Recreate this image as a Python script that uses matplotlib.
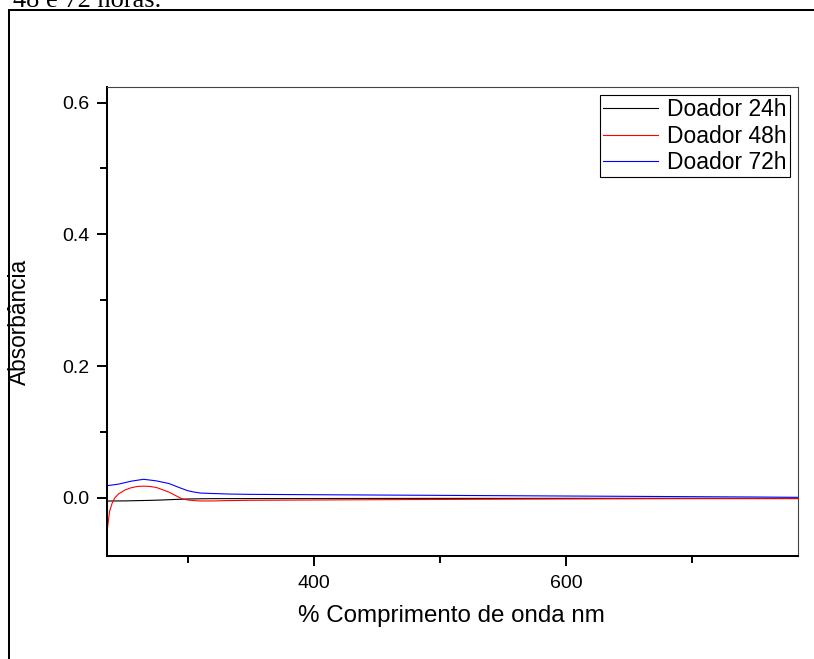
import matplotlib
matplotlib.use("Agg")
import matplotlib.pyplot as plt
from matplotlib.lines import Line2D
from matplotlib.ticker import FixedLocator, FormatStrFormatter

plt.rcParams['font.family'] = ['Liberation Sans', 'DejaVu Sans']

# ---- data ----
wl_24 = [236, 250, 260, 270, 280, 290, 300, 310, 320, 350, 400, 450, 500, 550, 600, 650, 700, 750, 785]
ab_24 = [-0.0046, -0.0044, -0.0040, -0.0036, -0.0030, -0.0022, -0.0015, -0.0012, -0.0010, -0.0009,
         -0.0008, -0.0007, -0.0006, -0.0006, -0.0005, -0.0005, -0.0005, -0.0005, -0.0005]

wl_48 = [236, 237, 238, 240, 242, 245, 250, 255, 260, 265, 270, 275, 280, 285, 290, 295, 300, 305,
         310, 320, 330, 350, 400, 450, 500, 550, 600, 650, 700, 750, 785]
ab_48 = [-0.051, -0.035, -0.020, -0.008, 0.000, 0.006, 0.012, 0.0155, 0.0175, 0.018, 0.0175, 0.016,
         0.0125, 0.009, 0.004, -0.001, -0.003, -0.004, -0.0045, -0.0045, -0.004, -0.0035, -0.003,
         -0.0026, -0.0022, -0.0018, -0.0015, -0.0012, -0.0010, -0.0010, -0.0010]

wl_72 = [236, 245, 255, 265, 275, 285, 293, 300, 305, 310, 320, 333, 350, 400, 450, 500, 550, 600,
         650, 700, 750, 785]
ab_72 = [0.0187, 0.021, 0.0255, 0.0284, 0.026, 0.022, 0.016, 0.011, 0.009, 0.0075, 0.0068, 0.006,
         0.0055, 0.005, 0.0045, 0.004, 0.0035, 0.003, 0.0025, 0.002, 0.0015, 0.001]

labels = ['Doador 24h', 'Doador 48h', 'Doador 72h']
colors = ['black', 'red', 'blue']

x_major = [400, 600]
x_minor = [300, 500, 700]
y_major = [0.0, 0.2, 0.4, 0.6]
y_minor = [0.1, 0.3, 0.5]

W, H = 814, 659
fig = plt.figure(figsize=(W / 100, H / 100), dpi=100)
ax = fig.add_axes([106.7 / W, 1 - 556 / H, (798 - 106.7) / W, (556 - 86.7) / H])

for xs, ys, lab, c in zip([wl_24, wl_48, wl_72], [ab_24, ab_48, ab_72], labels, colors):
    ax.plot(xs, ys, color=c, lw=0.8, label=lab)

ax.set_xlim(235.7, 783.7)
ax.set_ylim(-0.088, 0.624)

ax.xaxis.set_major_locator(FixedLocator(x_major))
ax.xaxis.set_minor_locator(FixedLocator(x_minor))
ax.yaxis.set_major_locator(FixedLocator(y_major))
ax.yaxis.set_minor_locator(FixedLocator(y_minor))
ax.yaxis.set_major_formatter(FormatStrFormatter('%.1f'))
ax.xaxis.set_major_formatter(FormatStrFormatter('%d'))

ax.tick_params(which='major', direction='out', length=7.2, width=1.4, labelsize=14, colors='black')
ax.tick_params(which='minor', direction='out', length=4.7, width=1.4)
ax.tick_params(axis='y', which='major', pad=5)
ax.tick_params(axis='x', which='major', pad=6.5)

for s in ['left', 'bottom']:
    ax.spines[s].set_linewidth(1.45)
    ax.spines[s].set_color('black')
for s in ['top', 'right']:
    ax.spines[s].set_linewidth(0.8)
    ax.spines[s].set_color('#444444')

leg = ax.legend(loc='upper right', bbox_to_anchor=(0.9884, 0.9823), borderaxespad=0,
                fontsize=16.5, handlelength=2.4, handletextpad=0.38, borderpad=0.15,
                labelspacing=0.14, fancybox=False, framealpha=1, edgecolor='black')
leg.get_frame().set_linewidth(0.8)

fig.text(19 / W, 1 - 321.5 / H, 'Absorbância', rotation=90, ha='center', va='center', fontsize=16.3)
fig.text(451.5 / W, 1 - 622 / H, '% Comprimento de onda nm', ha='center', va='baseline', fontsize=17.4)

fig.text(13 / W, 1 - 7.3 / H, '48 e 72 horas.', ha='left', va='baseline', fontsize=19,
         family=['Liberation Serif', 'DejaVu Serif'])

# outer frame (left and top edges visible)
fig.add_artist(Line2D([9 / W, 9 / W], [0, 1 - 10 / H], color='black', lw=1.45, transform=fig.transFigure))
fig.add_artist(Line2D([9 / W, 1], [1 - 10 / H, 1 - 10 / H], color='black', lw=1.45, transform=fig.transFigure))

fig.savefig('out.png', dpi=100)
